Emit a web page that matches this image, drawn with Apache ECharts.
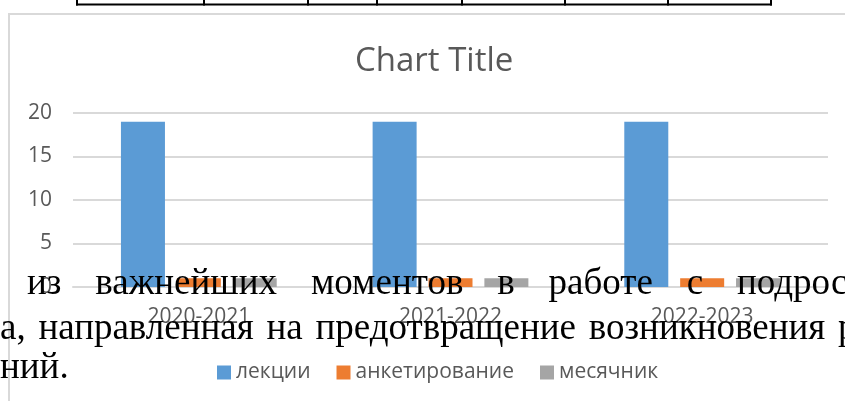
<!DOCTYPE html>
<html><head><meta charset="utf-8">
<script src="https://cdn.jsdelivr.net/npm/echarts@6/dist/echarts.min.js"></script>
<style>html,body{margin:0;padding:0;background:#fff;}#c{width:845px;height:401px;}</style>
</head><body><div id="c"></div>
<script>
const categories = ['2020-2021', '2021-2022', '2022-2023'];
const seriesNames = ['лекции', 'анкетирование', 'месячник'];
const lekcii = [19, 19, 19];
const anketirovanie = [1, 1, 1];
const mesyachnik = [1, 1, 1];
const yTicks = [0, 5, 10, 15, 20];
const titleText = 'Chart Title';
const line1Words = ['из', 'важнейших', 'моментов', 'в', 'работе', 'с', 'подрос'];
const line2Words = ['а,', 'направленная', 'на', 'предотвращение', 'возникновения', 'р'];
const line3Words = ['ний.'];

const colors = ['#5b9bd5', '#ed7d31', '#a5a5a5'];
const sans = '"Open Sans", sans-serif';
const serif = '"Liberation Serif", "Times New Roman", serif';
const docSize = 37;
const docFont = docSize + 'px ' + serif;

const measure = document.createElement('canvas').getContext('2d');
measure.font = docFont;
function wordWidth(w) { return measure.measureText(w).width; }

const chart = echarts.init(document.getElementById('c'));
const gfx = [];
gfx.push({type:'rect', shape:{x:9, y:14, width:900, height:500}, style:{fill:'none', stroke:'#d9d9d9', lineWidth:2}, z:1});
const tableX = [77, 204, 308, 377, 462, 565, 668, 771];
gfx.push({type:'line', shape:{x1:76, y1:4.5, x2:772, y2:4.5}, style:{stroke:'#000', lineWidth:2}, z:1});
tableX.forEach(x => gfx.push({type:'line', shape:{x1:x, y1:0, x2:x, y2:5.5}, style:{stroke:'#000', lineWidth:2}, z:1}));

function addJustified(words, xStart, xLast, baseline) {
  let xs = [xStart];
  if (words.length > 1) {
    let sum = 0;
    for (let i = 0; i < words.length - 1; i++) sum += wordWidth(words[i]);
    const gap = (xLast - xStart - sum) / (words.length - 1);
    let x = xStart;
    for (let i = 1; i < words.length; i++) { x += wordWidth(words[i-1]) + gap; xs.push(x); }
  }
  words.forEach((w, i) => gfx.push({type:'text', x: xs[i], y: baseline - 0.3375 * docSize, z: 100,
    style:{text: w, font: docFont, fill:'#000', verticalAlign:'middle', textVerticalAlign:'middle'}}));
}
addJustified(line1Words, 27, 737, 297);
addJustified(line2Words, 0, 838, 342);
addJustified(line3Words, 0, 0, 381);

const option = {
  animation: false,
  title: {text: titleText, left: 350, top: 40, textStyle:{fontFamily: sans, fontSize: 33, fontWeight:'normal', color:'#595959'}},
  legend: {data: seriesNames, bottom: 13, left: 212, itemWidth: 14, itemHeight: 14, itemGap: 26, icon: 'rect',
    textStyle: {fontFamily: sans, fontSize: 21, color:'#595959'}},
  grid: {left: 73, right: 17, top: 113, bottom: 114},
  xAxis: {type:'category', data: categories, axisTick:{show:false},
    axisLine:{lineStyle:{color:'#d9d9d9', width:2}},
    axisLabel:{fontFamily: sans, fontSize: 21, color:'#595959', margin: 20}},
  yAxis: {type:'value', min: yTicks[0], max: yTicks[yTicks.length-1], interval: 5,
    axisLine:{show:false}, axisTick:{show:false},
    splitLine:{lineStyle:{color:'#d9d9d9', width:2}},
    axisLabel:{fontFamily: sans, fontSize: 21, color:'#595959', margin: 21}},
  series: [
    {name: seriesNames[0], type:'bar', data: lekcii, barWidth: 44, barGap: '27%', itemStyle:{color: colors[0]}},
    {name: seriesNames[1], type:'bar', data: anketirovanie, barWidth: 44, barGap: '27%', itemStyle:{color: colors[1]}},
    {name: seriesNames[2], type:'bar', data: mesyachnik, barWidth: 44, barGap: '27%', itemStyle:{color: colors[2]}}
  ],
  graphic: gfx
};
chart.setOption(option);
</script></body></html>
